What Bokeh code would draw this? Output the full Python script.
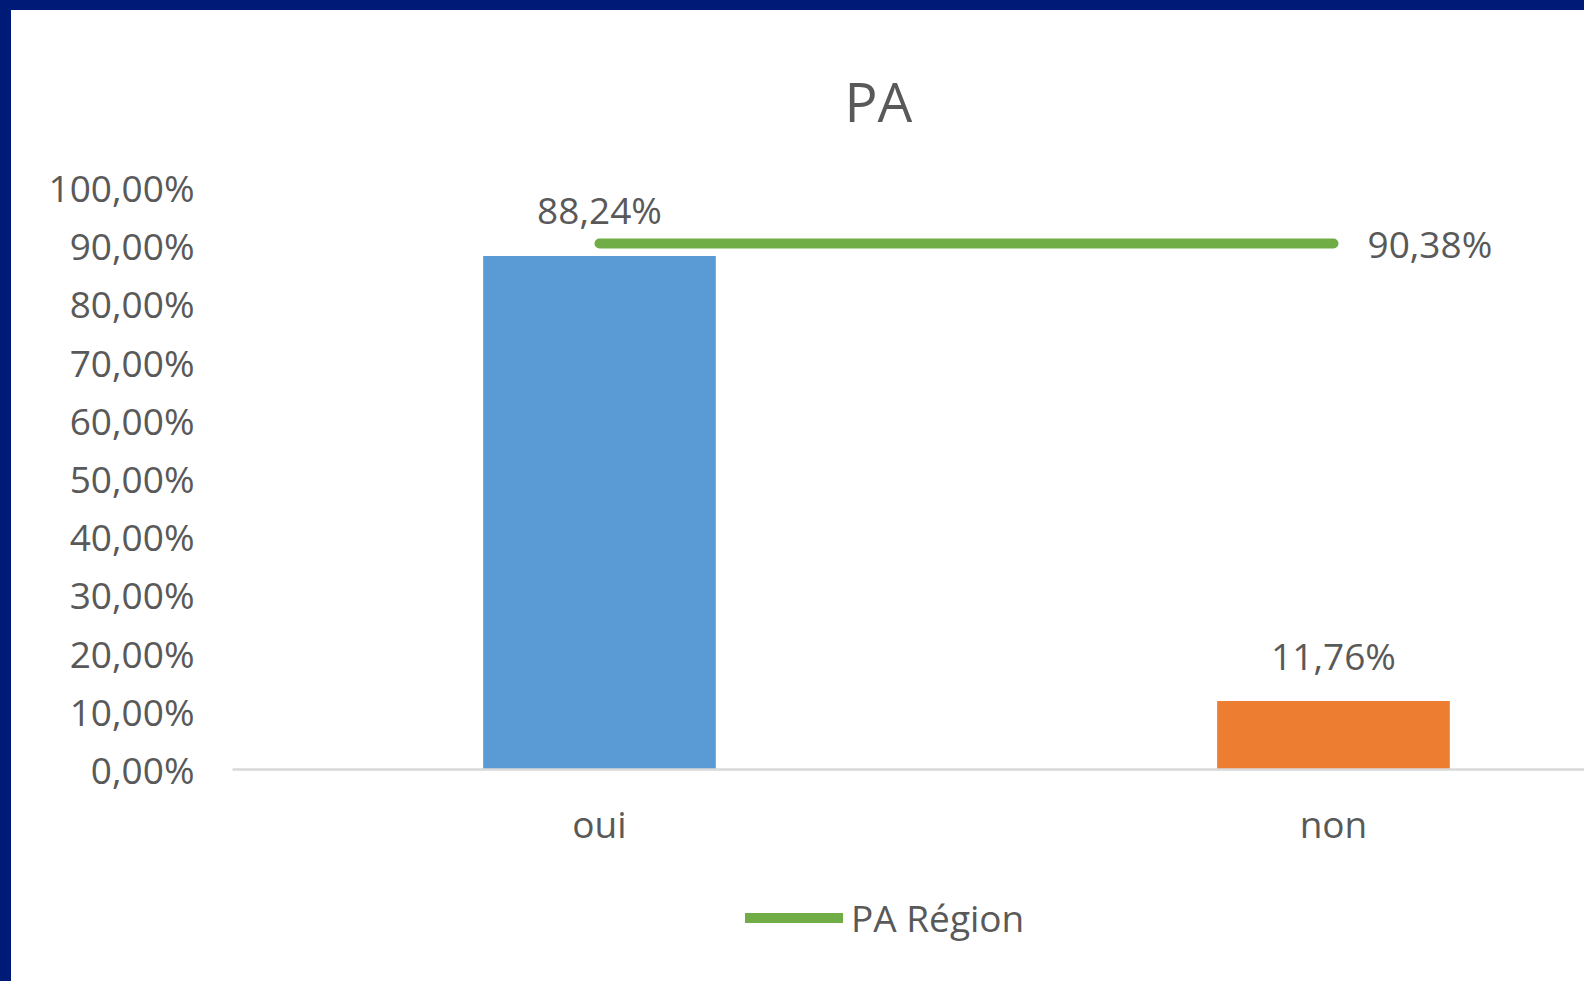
from bokeh.plotting import figure
from bokeh.layouts import column
from bokeh.models import (Range1d, FixedTicker, CustomJSTickFormatter, Legend, LegendItem,
                          ColumnDataSource)
from bokeh.core.properties import value
from bokeh.embed import file_html
from bokeh.resources import INLINE

# ---- data ----
title_text = "PA"
categories = ["oui", "non"]
pa_values = [88.24, 11.76]
bar_colors = ["#5B9BD5", "#ED7D31"]
region_label = "PA Région"
region_values = [90.38, 90.38]
y_ticks = [0, 10, 20, 30, 40, 50, 60, 70, 80, 90, 100]

FONT = "Open Sans"
TXT = "#595959"
GREEN = "#70AD47"

def fmt(v):
    return f"{v:.2f}".replace(".", ",") + "%"

xs = [i + 0.5 for i in range(len(categories))]

W = 1573
H_MAIN = 870
H_LEG = 101

p = figure(width=W, height=H_MAIN, output_backend="svg", toolbar_location=None,
           x_range=Range1d(0, 1.842), y_range=Range1d(0, 100),
           min_border_left=221, min_border_right=0, min_border_top=177, min_border_bottom=111)
p.outline_line_color = None
p.background_fill_color = "white"
p.border_fill_color = "white"
p.xgrid.visible = False
p.ygrid.visible = False

# title
p.title.text = title_text
p.title.align = "left"
p.title.offset = 612
p.title.vertical_align = "top"
p.title.text_font = FONT
p.title.text_font_size = "55px"
p.title.text_font_style = "normal"
p.title.text_color = TXT
p.title.standoff = 95

# bars
bar_src = ColumnDataSource(dict(x=xs, top=pa_values, color=bar_colors,
                                label=[fmt(v) for v in pa_values]))
p.vbar(x="x", top="top", width=0.317, bottom=0, color="color", line_color=None, source=bar_src)
p.text(x="x", y="top", text="label", source=bar_src, text_align="center",
       text_baseline="middle", y_offset=-46, text_font=value(FONT),
       text_font_size="37px", text_color=TXT)

# region line
p.line(xs, region_values, line_color=GREEN, line_width=10, line_cap="round")
p.text(x=[xs[-1]], y=[region_values[-1]], text=[fmt(region_values[-1])], text_align="left",
       text_baseline="middle", x_offset=34, text_font=value(FONT), text_font_size="37px",
       text_color=TXT)

# y axis
yax = p.yaxis[0]
yax.ticker = FixedTicker(ticks=y_ticks)
yax.formatter = CustomJSTickFormatter(code="return tick.toFixed(2).replace('.', ',') + '%';")
yax.axis_line_color = None
yax.major_tick_line_color = None
yax.minor_tick_line_color = None
yax.major_label_standoff = 32
yax.major_label_text_font = FONT
yax.major_label_text_font_size = "37px"
yax.major_label_text_color = TXT

# x axis
xax = p.xaxis[0]
xax.ticker = FixedTicker(ticks=xs)
xax.major_label_overrides = {x: c for x, c in zip(xs, categories)}
xax.axis_line_color = "#D9D9D9"
xax.axis_line_width = 2.5
xax.major_tick_line_color = None
xax.minor_tick_line_color = None
xax.major_label_standoff = 22
xax.major_label_text_font = FONT
xax.major_label_text_font_size = "37px"
xax.major_label_text_color = TXT

# legend strip (separate figure below the chart)
pl = figure(width=W, height=H_LEG, output_backend="svg", toolbar_location=None,
            x_axis_location=None, y_axis_location=None,
            x_range=Range1d(0, 1), y_range=Range1d(0, 1),
            min_border=0, min_border_left=0, min_border_right=0,
            min_border_top=0, min_border_bottom=0)
pl.outline_line_color = None
pl.xgrid.visible = False
pl.ygrid.visible = False
leg_r = pl.line(xs, region_values, line_color=GREEN, line_width=10, line_cap="round",
                visible=False)
legend = Legend(items=[LegendItem(label=region_label, renderers=[leg_r])],
                location=(513, 38), orientation="horizontal", margin=0, padding=0,
                border_line_alpha=0, background_fill_alpha=0,
                label_text_font=FONT, label_text_font_size="37px", label_text_color=TXT,
                glyph_width=98, glyph_height=37, label_standoff=8)
pl.add_layout(legend, "center")

layout = column(p, pl, spacing=0)
layout.styles = {"box-sizing": "content-box",
                 "border-top": "10px solid #001A78", "border-left": "11px solid #001A78"}

open("out.html", "w").write(file_html(layout, INLINE))
